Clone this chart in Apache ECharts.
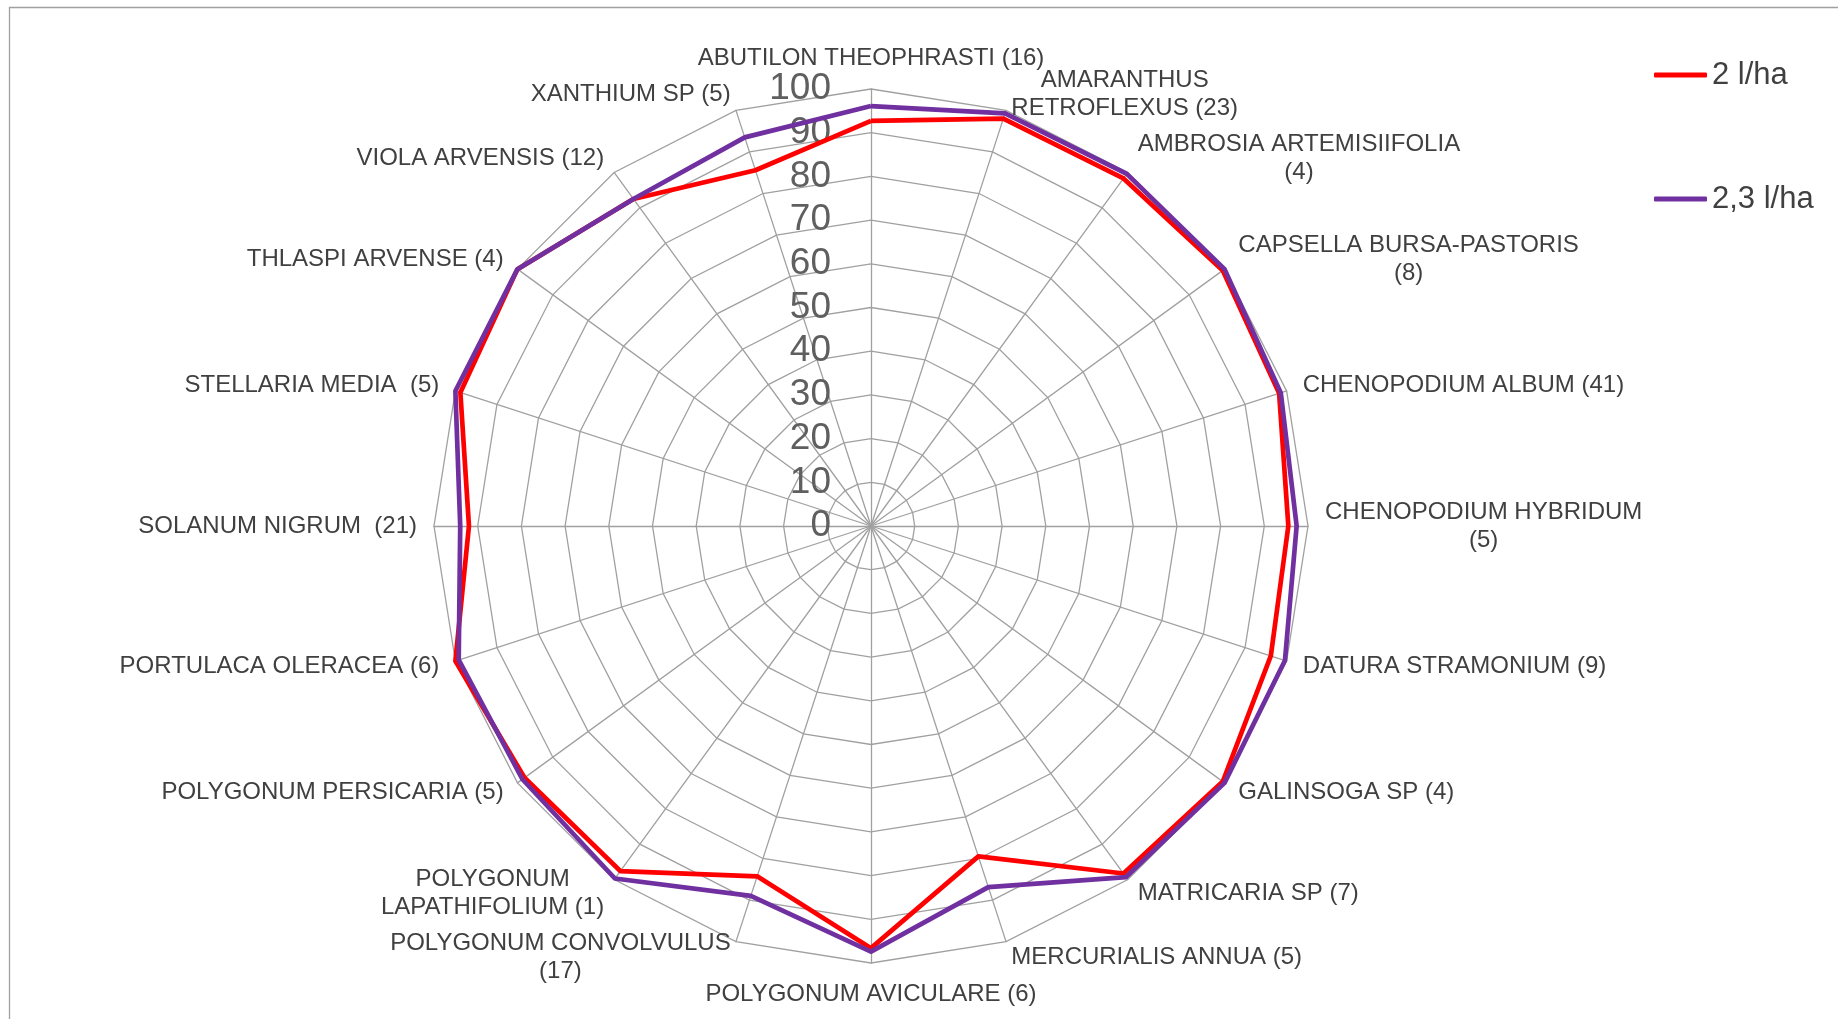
<!DOCTYPE html>
<html>
<head>
<meta charset="utf-8">
<script src="https://cdn.jsdelivr.net/npm/echarts@6/dist/echarts.min.js"></script>
<style>
  html, body { margin: 0; padding: 0; background: #fff; }
  #main { width: 1838px; height: 1019px; }
</style>
</head>
<body>
<div id="main"></div>
<script>
// weed species (number of sites), clockwise from the top
const categories = [
  'ABUTILON THEOPHRASTI (16)',
  'AMARANTHUS\nRETROFLEXUS (23)',
  'AMBROSIA ARTEMISIIFOLIA\n(4)',
  'CAPSELLA BURSA-PASTORIS\n(8)',
  'CHENOPODIUM ALBUM (41)',
  'CHENOPODIUM HYBRIDUM\n(5)',
  'DATURA STRAMONIUM (9)',
  'GALINSOGA SP (4)',
  'MATRICARIA SP (7)',
  'MERCURIALIS ANNUA (5)',
  'POLYGONUM AVICULARE (6)',
  'POLYGONUM CONVOLVULUS\n(17)',
  'POLYGONUM\nLAPATHIFOLIUM (1)',
  'POLYGONUM PERSICARIA (5)',
  'PORTULACA OLERACEA (6)',
  'SOLANUM NIGRUM  (21)',
  'STELLARIA MEDIA  (5)',
  'THLASPI ARVENSE (4)',
  'VIOLA ARVENSIS (12)',
  'XANTHIUM SP (5)'
]
const dose2 = [92.7, 98, 98.3, 99.5, 98.2, 95.5, 96.2, 99.5, 98.3, 79.5,
  96.6, 84.3, 97.6, 98, 100, 92, 98.8, 100, 92.5, 85.6]
const dose23 = [96.1, 99.3, 99.6, 100, 98.6, 97.4, 99.6, 100, 99.3, 86.9,
  97.4, 89, 99.7, 98.6, 99.2, 94, 100, 100, 92.5, 93.5]
const seriesNames = ['2 l/ha', '2,3 l/ha']
const seriesColors = ['#ff0000', '#7030a0']

const FONT = '"Liberation Sans", Arial, sans-serif'
const gridColor = '#a0a0a0'

// echarts lays radar axes counterclockwise, so feed them reversed (top stays first)
const order = [0].concat(categories.map((c, i) => i).slice(1).reverse())
const pick = (arr) => order.map((i) => arr[i])

const indicator = order.map((i, k) => {
  const ind = { name: categories[i], min: 0, max: 100 }
  if (k === 0) {
    // scale labels only on the top axis
    ind.axisLabel = {
      show: true,
      fontSize: 37,
      color: '#5f5f5f',
      fontFamily: FONT,
      margin: 40,
      padding: [5, 0, 0, 0],
      showMinLabel: true,
      showMaxLabel: true
    }
  }
  return ind
})

const legendText = { fontSize: 31, color: '#404040', fontFamily: FONT, lineHeight: 32 }

const chart = echarts.init(document.getElementById('main'))
const option = {
  animation: false,
  graphic: [{
    type: 'rect',
    shape: { x: 9.5, y: 7.5, width: 1900, height: 1100 },
    style: { fill: 'none', stroke: '#a0a0a0', lineWidth: 1.3 },
    silent: true
  }],
  legend: [
    {
      data: [seriesNames[0]],
      left: 1654, top: 59, padding: 0,
      itemWidth: 53, itemHeight: 5,
      icon: 'roundRect',
      textStyle: legendText
    },
    {
      data: [seriesNames[1]],
      left: 1654, top: 183, padding: 0,
      itemWidth: 53, itemHeight: 5,
      icon: 'roundRect',
      textStyle: legendText
    }
  ],
  radar: {
    center: [871, 526],
    radius: 437,
    startAngle: 90,
    shape: 'polygon',
    splitNumber: 10,
    indicator: indicator,
    nameGap: 17,
    axisName: {
      color: '#404040',
      fontSize: 24,
      fontFamily: FONT,
      formatter: (name) => name.split('\n').map((s) => '{c|' + s + '}').join('\n'),
      rich: {
        c: { align: 'center', fontSize: 24, lineHeight: 28, color: '#404040', fontFamily: FONT }
      }
    },
    axisLabel: { show: false },
    axisTick: { show: false },
    axisLine: { lineStyle: { color: gridColor, width: 1.3 } },
    splitLine: { lineStyle: { color: gridColor, width: 1.3 } },
    splitArea: { show: false }
  },
  series: [
    {
      name: seriesNames[0],
      type: 'radar',
      symbol: 'none',
      itemStyle: { color: seriesColors[0] },
      lineStyle: { color: seriesColors[0], width: 4.7, join: 'round' },
      data: [{ value: pick(dose2), name: seriesNames[0] }]
    },
    {
      name: seriesNames[1],
      type: 'radar',
      symbol: 'none',
      itemStyle: { color: seriesColors[1] },
      lineStyle: { color: seriesColors[1], width: 4.7, join: 'round' },
      data: [{ value: pick(dose23), name: seriesNames[1] }]
    }
  ]
}
chart.setOption(option)
</script>
</body>
</html>
